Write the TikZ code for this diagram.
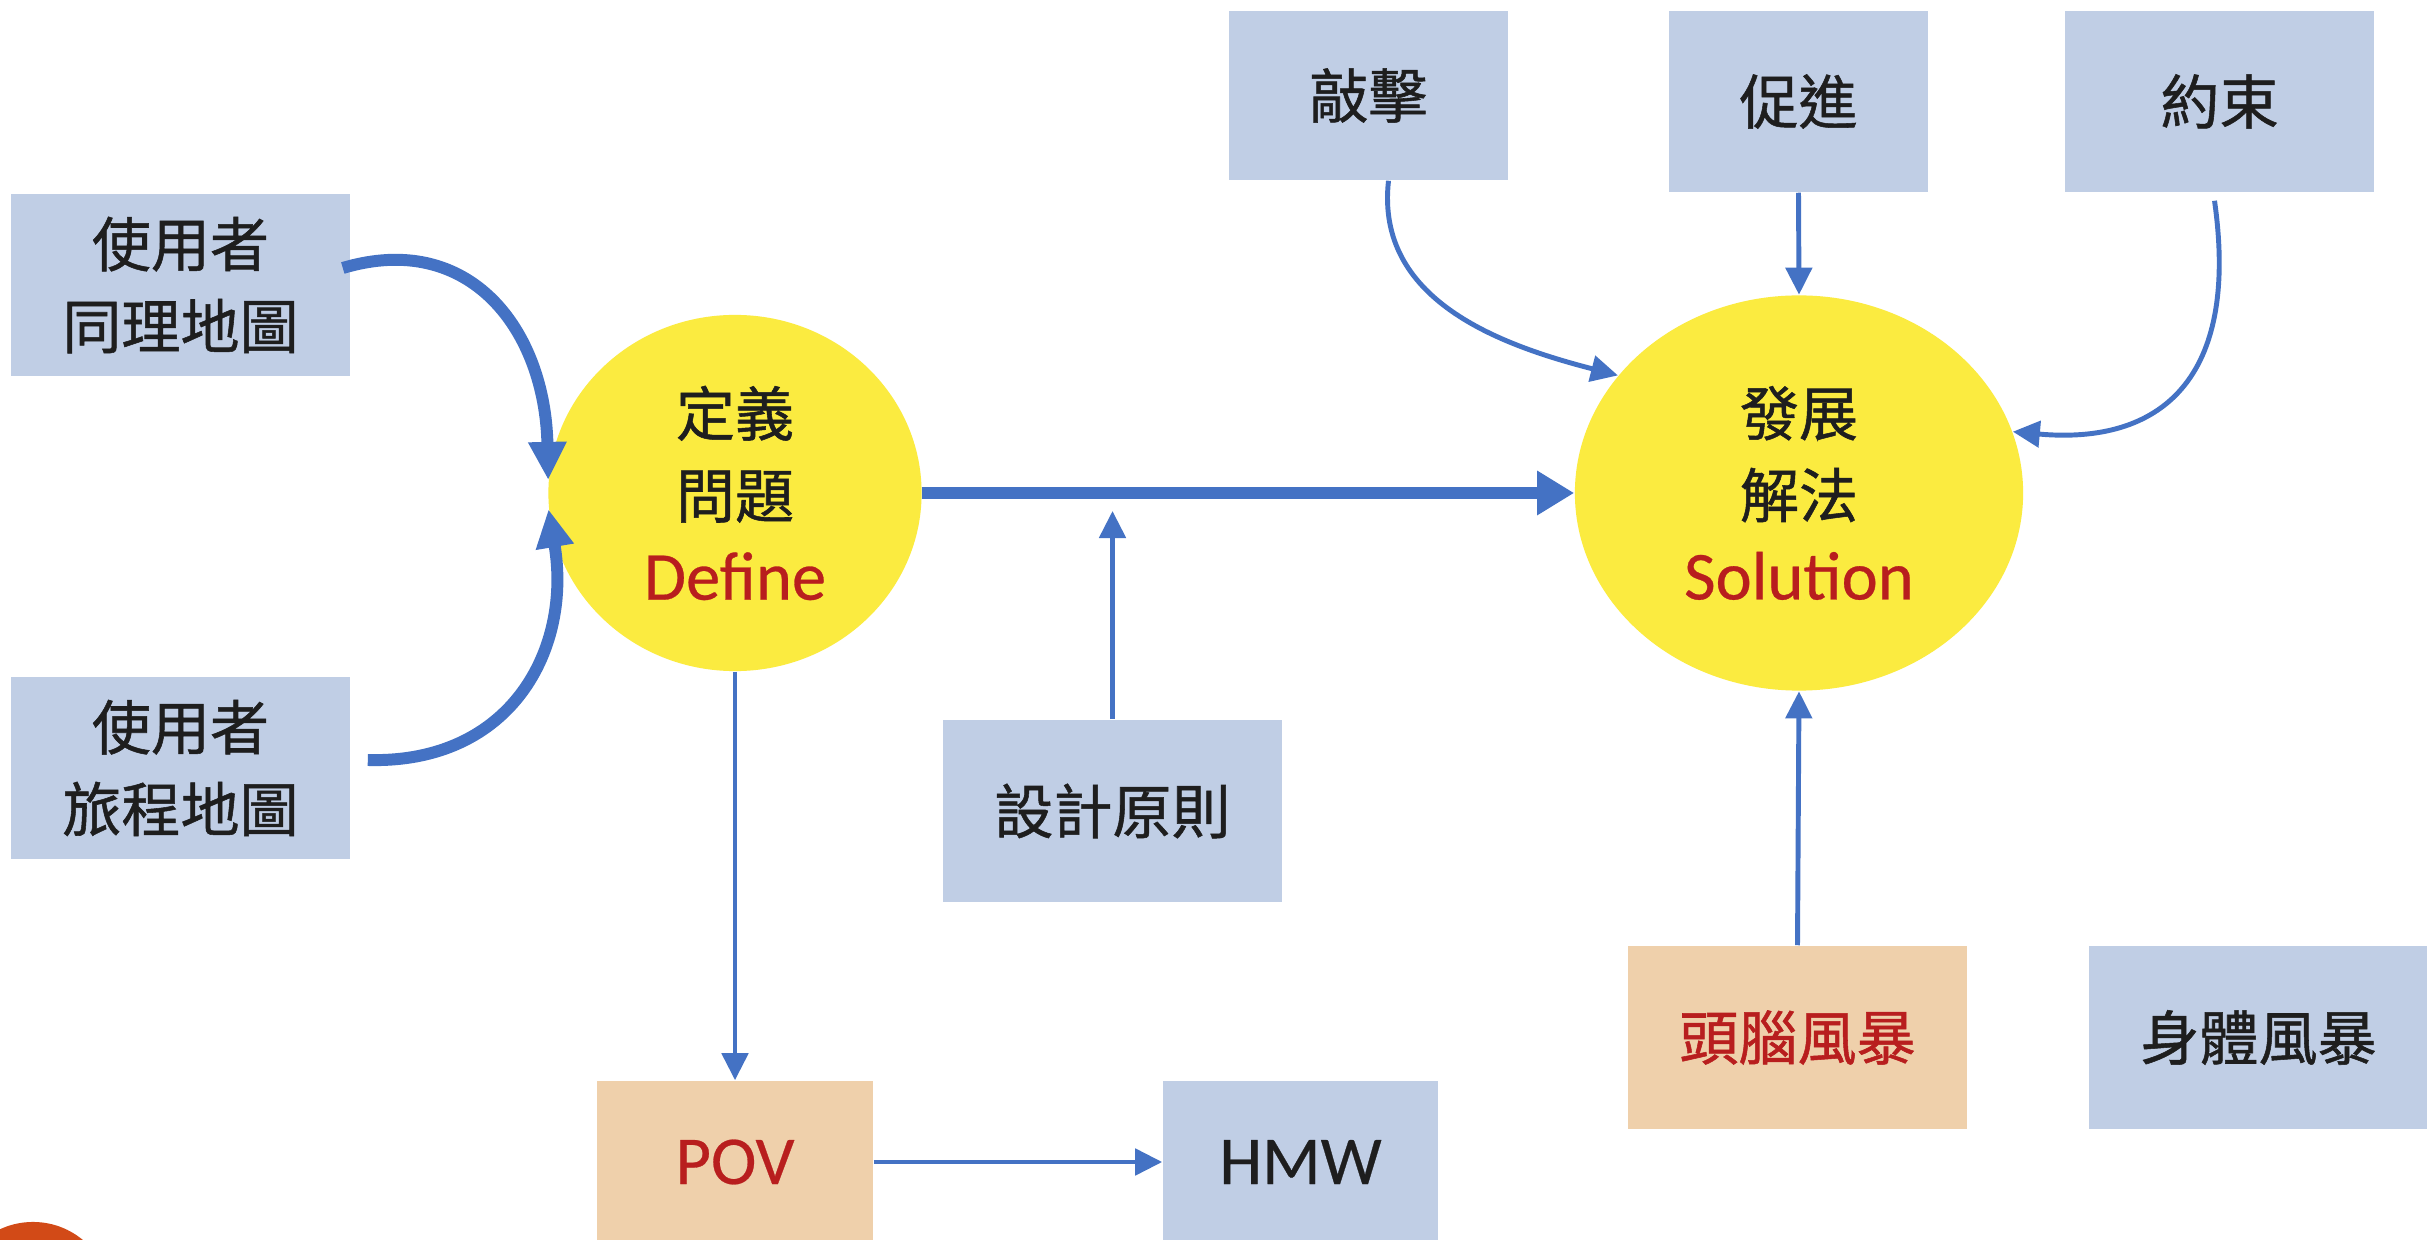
\documentclass[tikz,border=0pt]{standalone}
\usepackage{fontspec}
\setmainfont{Noto Sans CJK TC}[FakeBold=0.9]
\newfontfamily\latinfont{Carlito}[FakeBold=0.4]
\usetikzlibrary{arrows.meta,shapes.geometric,calc}
\definecolor{boxblue}{HTML}{C0CEE5}
\definecolor{boxtan}{HTML}{EFD0AB}
\definecolor{bulbyellow}{HTML}{FBEB40}
\definecolor{linkblue}{HTML}{4472C4}
\definecolor{inkdark}{HTML}{1E1E1E}
\definecolor{termred}{HTML}{B81E1E}
\definecolor{dotorange}{HTML}{D24A17}
\newcommand\cjksz{\fontsize{16.8pt}{23.3pt}\selectfont}
\newcommand\latsz{\latinfont\fontsize{19.5pt}{23.3pt}\selectfont}

\begin{document}
\begin{tikzpicture}[x=0.01cm,y=-0.01cm,
  card/.style={rectangle, inner sep=0pt, align=center, text=inkdark, font=\cjksz},
  bluecard/.style={card, fill=boxblue},
  tancard/.style={card, fill=boxtan},
  bulb/.style={ellipse, fill=bulbyellow, inner sep=0pt, align=center, text=inkdark, font=\cjksz},
  thinlink/.style={draw=linkblue, line width=1.4pt, -{Triangle[length=0.27cm,width=0.26cm]}},
  thicklink/.style={draw=linkblue, line width=3.4pt, -{Triangle[length=0.37cm,width=0.42cm]}},
  curvelink/.style={draw=linkblue, line width=3.4pt, -{Triangle[length=0.38cm,width=0.36cm]}},
]
\useasboundingbox (0,0) rectangle (2427,1240);
\fill[white] (0,0) rectangle (2427,1240);
\clip (0,0) rectangle (2427,1240);

% corner dot
\fill[dotorange] (33,1300) circle[radius=0.78cm];

% left inputs
\node[bluecard, minimum width=3.39cm, minimum height=1.82cm] (ua) at (180.5,285) {使用者\\同理地圖};
\node[bluecard, minimum width=3.39cm, minimum height=1.82cm] (ub) at (180.5,768) {使用者\\旅程地圖};

% the two stages
\node[bulb, minimum width=3.73cm, minimum height=3.56cm] (def) at (735,493) {定義\\問題\\{\latsz\color{termred}Define}};
\node[bulb, minimum width=4.48cm, minimum height=3.95cm] (sol) at (1799,493) {發展\\解法\\{\latsz\color{termred}Solution}};

% supporting boxes
\node[bluecard, minimum width=3.39cm, minimum height=1.82cm] (dp) at (1112.5,811) {設計原則};
\node[bluecard, minimum width=2.79cm, minimum height=1.69cm] (qiao) at (1368.5,95.5) {敲擊};
\node[bluecard, minimum width=2.59cm, minimum height=1.81cm] (cu) at (1798.5,101.5) {促進};
\node[bluecard, minimum width=3.09cm, minimum height=1.81cm] (yue) at (2219.5,101.5) {約束};
\node[tancard, minimum width=3.39cm, minimum height=1.83cm, text=termred] (brain) at (1797.5,1037.5) {頭腦風暴};
\node[bluecard, minimum width=3.39cm, minimum height=1.83cm] (body) at (2258.5,1037.5) {身體風暴};
\node[tancard, minimum width=2.76cm, minimum height=1.62cm, font=\latsz, text=termred] (pov) at (735,1162) {POV};
\node[bluecard, minimum width=2.75cm, minimum height=1.62cm, font=\latsz] (hmw) at (1300.5,1162) {HMW};

% connectors
\draw[curvelink] ($(ua.east)+(-8,-17)$) .. controls (470,230) and (545,330) .. (def.176);
\draw[curvelink] ($(ub.east)+(17,-8)$) .. controls (512,764) and (572,648) .. (def.185);
\draw[thicklink] (def.east) -- (sol.west);
\draw[thinlink] (dp.north) -- ($(dp.north |- def.east)+(0,18)$);
\draw[thinlink] (def.south) -- (pov.north);
\draw[thinlink] (pov.east) -- (hmw.west);
\draw[thinlink] ($(qiao.south)+(20,0)$) .. controls (1375,300) and (1500,345) .. (sol.147);
\draw[thinlink] (cu.south) -- (sol.north);
\draw[thinlink] ($(yue.south)+(-5,8)$) .. controls (2240,380) and (2160,445) .. (sol.16);
\draw[thinlink] (brain.north) -- (sol.south);
\end{tikzpicture}
\end{document}
